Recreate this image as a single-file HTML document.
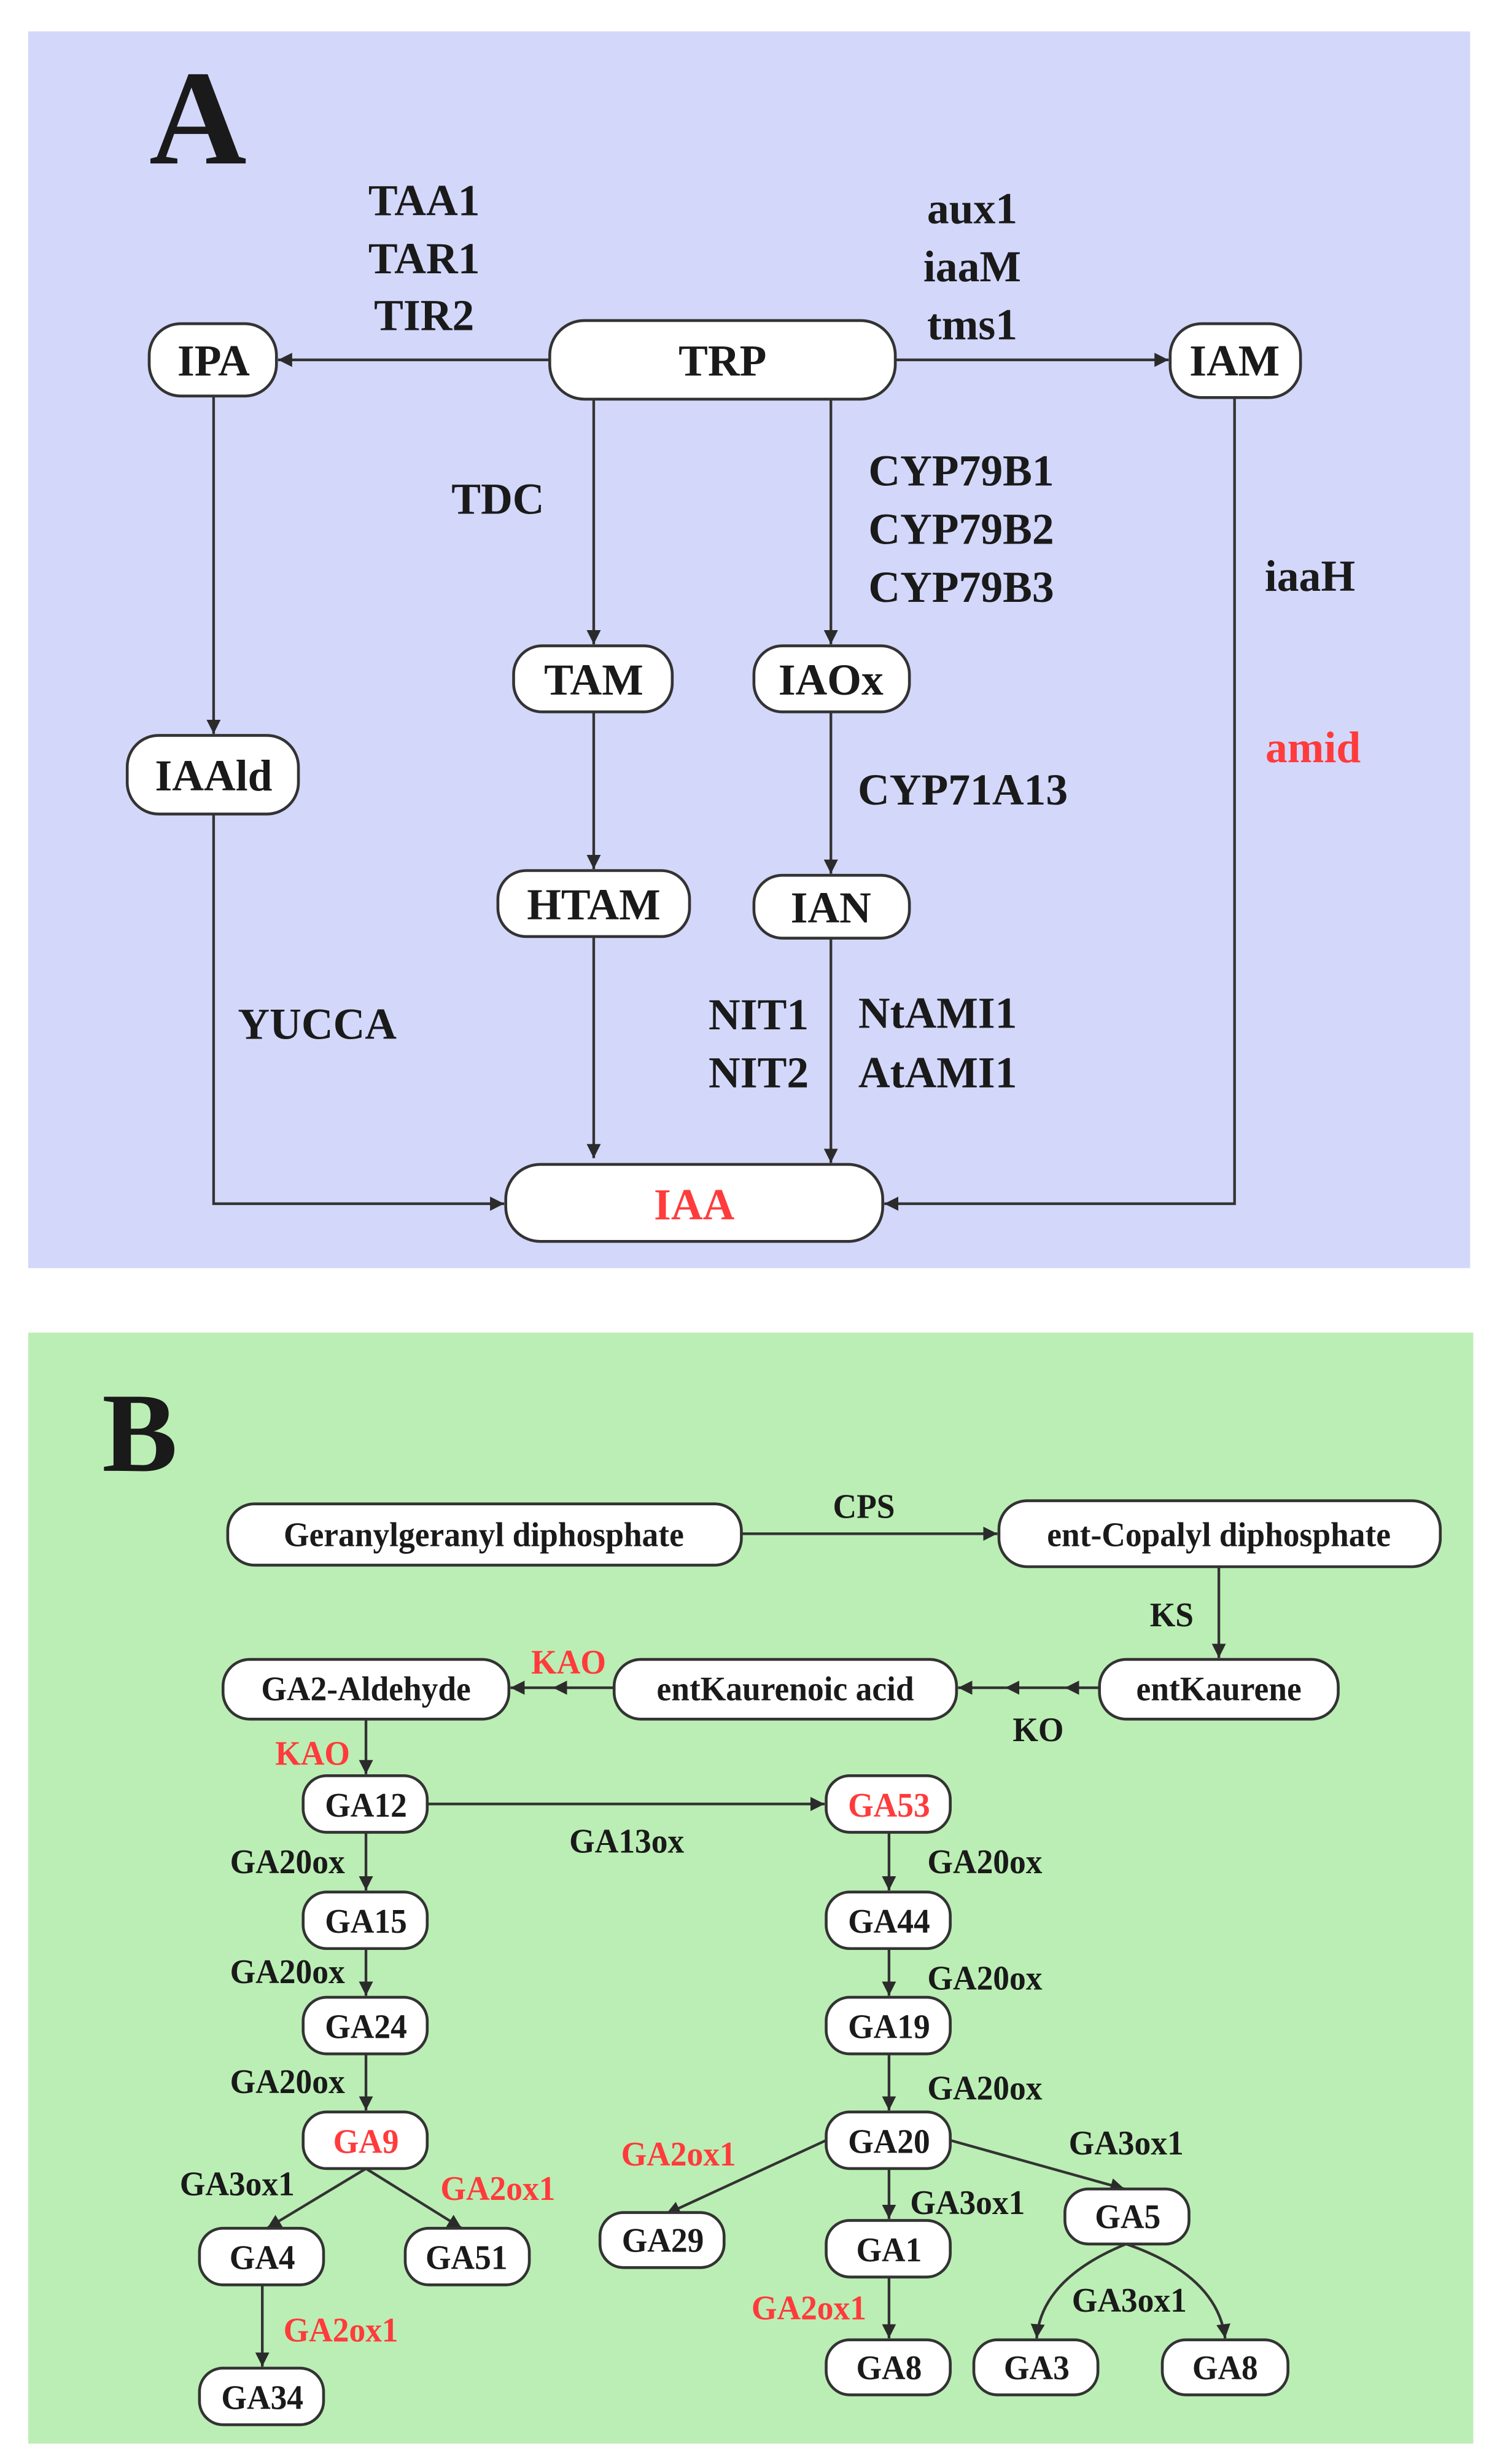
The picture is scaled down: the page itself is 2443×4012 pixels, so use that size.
<!DOCTYPE html>
<html><head><meta charset="utf-8"><style>html,body{margin:0;padding:0;background:#fff}svg{display:block}</style></head>
<body>
<svg width="2443" height="4012" viewBox="0 0 955 1568" preserveAspectRatio="none" xmlns="http://www.w3.org/2000/svg">
<defs>
<marker id="ar" viewBox="0 0 10 10" refX="10" refY="5" markerWidth="9" markerHeight="9" markerUnits="userSpaceOnUse" orient="auto"><path d="M0,0 L10,5 L0,10 z" fill="#2b2b2b"/></marker>
</defs>
<style>
text{font-family:"Liberation Serif",serif;font-weight:bold;fill:#1a1a1a}
.a{font-size:28px}
.b{font-size:22px}
.r{fill:#ff3b3b}
rect{fill:#fff;stroke:#333;stroke-width:1.8}
.l{stroke:#333;stroke-width:1.7;fill:none}
</style>
<rect x="18" y="20" width="918" height="787" style="fill:#d3d7fa;stroke:none"/>
<rect x="18" y="848" width="920" height="707" style="fill:#bbeeb4;stroke:none"/>
<text x="126" y="104" style="font-size:86px" text-anchor="middle">A</text>
<text x="89" y="936" style="font-size:72px" text-anchor="middle">B</text>

<g class="l">
<line x1="350" y1="229" x2="177" y2="229" marker-end="url(#ar)"/>
<line x1="570" y1="229" x2="744" y2="229" marker-end="url(#ar)"/>
<line x1="378" y1="254" x2="378" y2="410" marker-end="url(#ar)"/>
<line x1="529" y1="254" x2="529" y2="410" marker-end="url(#ar)"/>
<line x1="136" y1="252" x2="136" y2="467" marker-end="url(#ar)"/>
<line x1="378" y1="453" x2="378" y2="553" marker-end="url(#ar)"/>
<line x1="529" y1="453" x2="529" y2="556" marker-end="url(#ar)"/>
<line x1="378" y1="596" x2="378" y2="737" marker-end="url(#ar)"/>
<line x1="529" y1="597" x2="529" y2="740" marker-end="url(#ar)"/>
<polyline points="136,518 136,766 321,766" marker-end="url(#ar)"/>
<polyline points="786,253 786,766 563,766" marker-end="url(#ar)"/>
</g>
<rect x="95" y="206" width="81" height="46" rx="20"/>
<rect x="350" y="204" width="220" height="50" rx="22"/>
<rect x="745" y="206" width="83" height="47" rx="20"/>
<rect x="327" y="411" width="101" height="42" rx="18"/>
<rect x="480" y="411" width="99" height="42" rx="18"/>
<rect x="81" y="468" width="109" height="50" rx="20"/>
<rect x="317" y="554" width="122" height="42" rx="18"/>
<rect x="480" y="557" width="99" height="40" rx="18"/>
<rect x="322" y="741" width="240" height="49" rx="22"/>
<g class="a" text-anchor="middle">
<text x="136" y="239">IPA</text>
<text x="460" y="239">TRP</text>
<text x="786" y="239">IAM</text>
<text x="378" y="442">TAM</text>
<text x="529" y="442">IAOx</text>
<text x="136" y="503">IAAld</text>
<text x="378" y="585">HTAM</text>
<text x="529" y="587">IAN</text>
<text class="r" x="442" y="776">IAA</text>
<text x="270" y="137">TAA1</text>
<text x="270" y="174">TAR1</text>
<text x="270" y="210">TIR2</text>
<text x="619" y="142">aux1</text>
<text x="619" y="179">iaaM</text>
<text x="619" y="216">tms1</text>
<text x="317" y="327">TDC</text>
<text x="612" y="309">CYP79B1</text>
<text x="612" y="346">CYP79B2</text>
<text x="612" y="383">CYP79B3</text>
<text x="834" y="376">iaaH</text>
<text class="r" x="836" y="485">amid</text>
<text x="613" y="512">CYP71A13</text>
<text x="202" y="661">YUCCA</text>
<text x="483" y="655">NIT1</text>
<text x="483" y="692">NIT2</text>
<text x="597" y="654">NtAMI1</text>
<text x="597" y="692">AtAMI1</text>
</g>

<g class="l">
<line x1="472" y1="976" x2="635" y2="976" marker-end="url(#ar)"/>
<line x1="776" y1="997" x2="776" y2="1055" marker-end="url(#ar)"/>
<line x1="700" y1="1074" x2="678" y2="1074" marker-end="url(#ar)"/>
<line x1="678" y1="1074" x2="640" y2="1074" marker-end="url(#ar)"/>
<line x1="640" y1="1074" x2="610" y2="1074" marker-end="url(#ar)"/>
<line x1="391" y1="1074" x2="352" y2="1074" marker-end="url(#ar)"/>
<line x1="352" y1="1074" x2="325" y2="1074" marker-end="url(#ar)"/>
<line x1="233" y1="1094" x2="233" y2="1129" marker-end="url(#ar)"/>
<line x1="272" y1="1148" x2="525" y2="1148" marker-end="url(#ar)"/>
<line x1="233" y1="1166" x2="233" y2="1203" marker-end="url(#ar)"/>
<line x1="233" y1="1240" x2="233" y2="1270" marker-end="url(#ar)"/>
<line x1="233" y1="1307" x2="233" y2="1343" marker-end="url(#ar)"/>
<line x1="566" y1="1166" x2="566" y2="1203" marker-end="url(#ar)"/>
<line x1="566" y1="1240" x2="566" y2="1270" marker-end="url(#ar)"/>
<line x1="566" y1="1307" x2="566" y2="1343" marker-end="url(#ar)"/>
<line x1="233" y1="1380" x2="170" y2="1418" marker-end="url(#ar)"/>
<line x1="233" y1="1380" x2="294" y2="1418" marker-end="url(#ar)"/>
<line x1="167" y1="1454" x2="167" y2="1506" marker-end="url(#ar)"/>
<line x1="526" y1="1362" x2="424" y2="1409" marker-end="url(#ar)"/>
<line x1="566" y1="1380" x2="566" y2="1412" marker-end="url(#ar)"/>
<line x1="605" y1="1362" x2="716" y2="1393" marker-end="url(#ar)"/>
<line x1="566" y1="1449" x2="566" y2="1488" marker-end="url(#ar)"/>
<path d="M717,1428 Q663,1450 660,1488" marker-end="url(#ar)"/>
<path d="M717,1428 Q775,1448 780,1488" marker-end="url(#ar)"/>
</g>
<rect x="145" y="957" width="327" height="39" rx="17"/>
<rect x="636" y="955" width="281" height="42" rx="18"/>
<rect x="700" y="1056" width="152" height="38" rx="17"/>
<rect x="391" y="1056" width="218" height="38" rx="17"/>
<rect x="142" y="1056" width="182" height="38" rx="17"/>
<rect x="193" y="1130" width="79" height="36" rx="15"/>
<rect x="526" y="1130" width="79" height="36" rx="15"/>
<rect x="193" y="1204" width="79" height="36" rx="15"/>
<rect x="193" y="1271" width="79" height="36" rx="15"/>
<rect x="193" y="1344" width="79" height="36" rx="15"/>
<rect x="526" y="1204" width="79" height="36" rx="15"/>
<rect x="526" y="1271" width="79" height="36" rx="15"/>
<rect x="526" y="1344" width="79" height="36" rx="15"/>
<rect x="127" y="1418" width="79" height="36" rx="15"/>
<rect x="258" y="1418" width="79" height="36" rx="15"/>
<rect x="127" y="1507" width="79" height="36" rx="15"/>
<rect x="382" y="1408" width="79" height="35" rx="15"/>
<rect x="526" y="1413" width="79" height="36" rx="15"/>
<rect x="526" y="1489" width="79" height="35" rx="15"/>
<rect x="678" y="1393" width="79" height="35" rx="15"/>
<rect x="620" y="1489" width="79" height="35" rx="15"/>
<rect x="740" y="1489" width="80" height="35" rx="15"/>
<g class="b" text-anchor="middle">
<text transform="translate(308 984) scale(.95 1)">Geranylgeranyl diphosphate</text>
<text transform="translate(776 984) scale(.95 1)">ent-Copalyl diphosphate</text>
<text transform="translate(776 1082) scale(.95 1)">entKaurene</text>
<text transform="translate(500 1082) scale(.95 1)">entKaurenoic acid</text>
<text transform="translate(233 1082) scale(.95 1)">GA2-Aldehyde</text>
<text transform="translate(233 1156) scale(.95 1)">GA12</text>
<text class="r" transform="translate(566 1156) scale(.95 1)">GA53</text>
<text transform="translate(233 1230) scale(.95 1)">GA15</text>
<text transform="translate(233 1297) scale(.95 1)">GA24</text>
<text class="r" transform="translate(233 1370) scale(.95 1)">GA9</text>
<text transform="translate(566 1230) scale(.95 1)">GA44</text>
<text transform="translate(566 1297) scale(.95 1)">GA19</text>
<text transform="translate(566 1370) scale(.95 1)">GA20</text>
<text transform="translate(167 1444) scale(.95 1)">GA4</text>
<text transform="translate(297 1444) scale(.95 1)">GA51</text>
<text transform="translate(167 1533) scale(.95 1)">GA34</text>
<text transform="translate(422 1433) scale(.95 1)">GA29</text>
<text transform="translate(566 1439) scale(.95 1)">GA1</text>
<text transform="translate(566 1514) scale(.95 1)">GA8</text>
<text transform="translate(718 1418) scale(.95 1)">GA5</text>
<text transform="translate(660 1514) scale(.95 1)">GA3</text>
<text transform="translate(780 1514) scale(.95 1)">GA8</text>
<text transform="translate(550 966) scale(.95 1)">CPS</text>
<text transform="translate(746 1035) scale(.95 1)">KS</text>
<text class="r" transform="translate(362 1065) scale(.95 1)">KAO</text>
<text transform="translate(661 1108) scale(.95 1)">KO</text>
<text class="r" transform="translate(199 1123) scale(.95 1)">KAO</text>
<text transform="translate(399 1179) scale(.95 1)">GA13ox</text>
<text transform="translate(183 1192) scale(.95 1)">GA20ox</text>
<text transform="translate(183 1262) scale(.95 1)">GA20ox</text>
<text transform="translate(183 1332) scale(.95 1)">GA20ox</text>
<text transform="translate(627 1192) scale(.95 1)">GA20ox</text>
<text transform="translate(627 1266) scale(.95 1)">GA20ox</text>
<text transform="translate(627 1336) scale(.95 1)">GA20ox</text>
<text transform="translate(151 1397) scale(.95 1)">GA3ox1</text>
<text class="r" transform="translate(317 1400) scale(.95 1)">GA2ox1</text>
<text class="r" transform="translate(432 1378) scale(.95 1)">GA2ox1</text>
<text transform="translate(717 1371) scale(.95 1)">GA3ox1</text>
<text transform="translate(616 1409) scale(.95 1)">GA3ox1</text>
<text transform="translate(719 1471) scale(.95 1)">GA3ox1</text>
<text class="r" transform="translate(217 1490) scale(.95 1)">GA2ox1</text>
<text class="r" transform="translate(515 1476) scale(.95 1)">GA2ox1</text>
</g>
</svg>
</body></html>
